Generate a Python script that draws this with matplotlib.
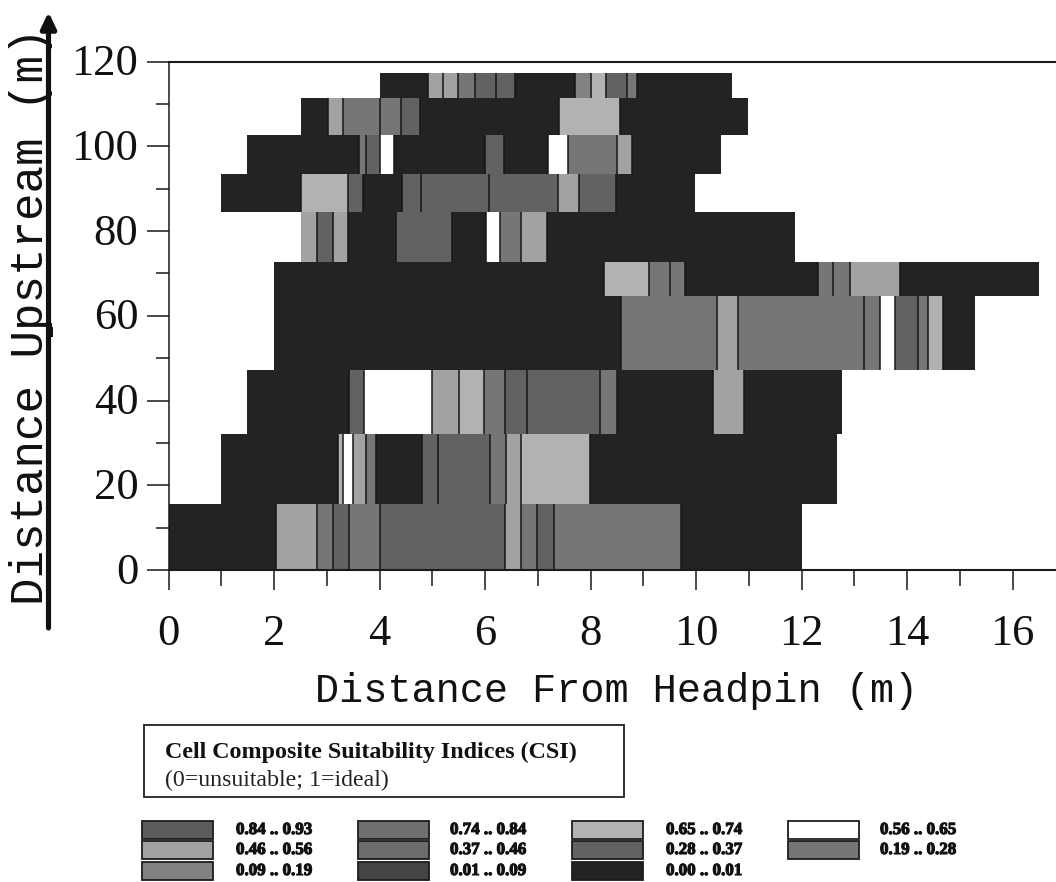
import matplotlib
matplotlib.use("Agg")
import matplotlib.pyplot as plt
import matplotlib.patheffects as pe
from matplotlib.patches import Rectangle
from matplotlib.transforms import ScaledTranslation

# CSI classes, same order as the legend (left to right, top to bottom)
csi_labels = ["0.84 .. 0.93", "0.74 .. 0.84", "0.65 .. 0.74", "0.56 .. 0.65",
              "0.46 .. 0.56", "0.37 .. 0.46", "0.28 .. 0.37", "0.19 .. 0.28",
              "0.09 .. 0.19", "0.01 .. 0.09", "0.00 .. 0.01"]
csi_colors = ["#5c5c5c", "#707070", "#b2b2b2", "#ffffff",
              "#a2a2a2", "#6c6c6c", "#626262", "#767676",
              "#828282", "#444444", "#232323"]

# top/bottom of every transect row (m upstream), row 0 at the bottom
row_edges = [0, 15.6, 32.1, 47.2, 64.8, 72.8, 84.5, 93.5, 102.8, 111.5, 117.4]

row0_x = [0, 2.03, 2.82, 3.11, 3.42, 4.01, 6.38, 6.68, 6.98, 7.30, 9.72, 12.0]
row0_csi = [10, 4, 7, 6, 7, 6, 4, 7, 6, 7, 10]
row1_x = [0.99, 3.22, 3.31, 3.50, 3.74, 3.93, 4.80, 5.10, 6.09, 6.40, 6.69, 7.99, 12.67]
row1_csi = [10, 2, 3, 4, 7, 10, 6, 6, 7, 4, 2, 10]
row2_x = [1.49, 3.43, 3.71, 5.0, 5.50, 5.98, 6.37, 6.79, 8.18, 8.50, 10.33, 10.91, 12.76]
row2_csi = [10, 6, 3, 4, 2, 7, 6, 6, 7, 10, 4, 10]
row3_x = [2.0, 8.57, 10.40, 10.80, 13.19, 13.49, 13.77, 14.20, 14.39, 14.69, 15.28]
row3_csi = [10, 7, 4, 7, 7, 3, 6, 7, 2, 10]
row4_x = [2.0, 8.26, 9.10, 9.50, 9.79, 12.31, 12.60, 12.91, 13.87, 16.50]
row4_csi = [10, 2, 7, 7, 10, 7, 7, 4, 10]
row5_x = [2.51, 2.82, 3.11, 3.41, 4.31, 5.38, 6.01, 6.28, 6.68, 7.17, 11.88]
row5_csi = [4, 6, 4, 10, 6, 10, 3, 7, 4, 10]
row6_x = [0.99, 2.52, 3.41, 3.69, 4.42, 4.79, 6.08, 7.39, 7.78, 8.48, 9.99]
row6_csi = [10, 2, 6, 10, 6, 6, 6, 4, 6, 10]
row7_x = [1.49, 3.61, 3.74, 4.01, 4.28, 6.0, 6.36, 7.20, 7.57, 8.50, 8.78, 10.48]
row7_csi = [10, 7, 6, 3, 10, 6, 10, 3, 7, 4, 10]
row8_x = [2.51, 3.03, 3.31, 4.01, 4.40, 4.77, 7.40, 8.55, 10.98]
row8_csi = [10, 4, 7, 7, 6, 10, 2, 10]
row9_x = [4.0, 4.91, 5.21, 5.49, 5.81, 6.20, 6.57, 7.70, 8.0, 8.29, 8.69, 8.88, 10.69]
row9_csi = [10, 4, 4, 7, 6, 6, 10, 8, 2, 6, 7, 10]

rows_x = [row0_x, row1_x, row2_x, row3_x, row4_x, row5_x, row6_x, row7_x, row8_x, row9_x]
rows_csi = [row0_csi, row1_csi, row2_csi, row3_csi, row4_csi, row5_csi, row6_csi, row7_csi, row8_csi, row9_csi]

x_major = [0, 2, 4, 6, 8, 10, 12, 14, 16]
x_minor = [1, 3, 5, 7, 9, 11, 13, 15]
y_major = [0, 20, 40, 60, 80, 100, 120]
y_minor = [10, 30, 50, 70, 90, 110]

W, H = 1056, 882
serif = "Liberation Serif"
mono = "Liberation Mono"

fig = plt.figure(figsize=(W / 100, H / 100), dpi=100, facecolor="white")
ax = fig.add_axes([168.5 / W, 1 - 570 / H, (W - 168.5) / W, (570 - 61.7) / H])

for i in range(len(rows_x)):
    edges = rows_x[i]
    y0, y1 = row_edges[i], row_edges[i + 1]
    for j in range(len(rows_csi[i])):
        ax.barh(y0, edges[j + 1] - edges[j], height=y1 - y0, left=edges[j], align="edge",
                color=csi_colors[rows_csi[i][j]], linewidth=0)
    ax.vlines(edges[1:-1], y0, y1, color="#161616", linewidth=1.1)

ax.set_xlim(0, (W - 168.5) / 52.75)
ax.set_ylim(0, 120)
ax.spines["right"].set_visible(False)
ax.spines["left"].set_linewidth(1.1)
ax.spines["top"].set_linewidth(1.5)
ax.spines["bottom"].set_linewidth(1.5)
for s in ax.spines.values():
    s.set_color("#1a1a1a")

ax.set_xticks(x_major)
ax.set_xticks(x_minor, minor=True)
ax.set_yticks(y_major)
ax.set_yticks(y_minor, minor=True)
ax.tick_params(axis="x", which="major", length=14.4, width=1.1, pad=17, color="#1a1a1a")
ax.tick_params(axis="x", which="minor", length=11.3, width=1.1, color="#1a1a1a")
ax.tick_params(axis="y", which="major", length=16.2, width=1.1, pad=5.5, color="#1a1a1a")
ax.tick_params(axis="y", which="minor", length=9.7, width=1.1, color="#1a1a1a")
for lab in ax.get_xticklabels() + ax.get_yticklabels():
    lab.set_fontfamily(serif)
    lab.set_fontsize(32)
    lab.set_color("#111111")
# y labels sit a little above their ticks in the original
up = ScaledTranslation(0, 2 / 72 * 0.72 * 100 / 100, fig.dpi_scale_trans)
for lab in ax.get_yticklabels():
    lab.set_transform(lab.get_transform() + up)

ax.set_xlabel("Distance From Headpin (m)", fontfamily=mono, fontsize=29, color="#111111", va="top")
ax.xaxis.set_label_coords((617 - 168.5) / (W - 168.5), (570 - 672) / (570 - 61.7))
ax.set_ylabel("Distance Upstream (m)", fontfamily=mono, fontsize=33, color="#111111", va="bottom")
ax.yaxis.set_label_coords((53 - 168.5) / (W - 168.5), (570 - 316) / (570 - 61.7))

# overlay in pixel coordinates for the arrow and the hand made legend
ov = fig.add_axes([0, 0, 1, 1], facecolor="none")
ov.set_xlim(0, W)
ov.set_ylim(H, 0)
ov.axis("off")

ov.annotate("", xy=(48.5, 12), xytext=(48.5, 628),
            arrowprops=dict(arrowstyle="-|>,head_width=0.45,head_length=0.95", lw=3.7,
                            color="#111111", shrinkA=0, shrinkB=0))
ov.add_patch(Rectangle((46, 327), 6.5, 10, color="#111111", linewidth=0))

ov.add_patch(Rectangle((144, 725), 480, 72, facecolor="white", edgecolor="#222222", linewidth=1.3))
ov.text(165, 752, "Cell Composite Suitability Indices (CSI)", fontfamily=serif, fontweight="bold",
        fontsize=17.3, color="#111111", va="center")
ov.text(165, 780, "(0=unsuitable; 1=ideal)", fontfamily=serif, fontsize=17.2, color="#222222", va="center")

col_x = [142, 358, 572, 788]
text_x = [236, 450, 666, 880]
row_y = [821, 841, 862]
for k in range(len(csi_labels)):
    r, c = k // 4, k % 4
    ov.add_patch(Rectangle((col_x[c], row_y[r]), 71, 18, facecolor=csi_colors[k],
                           edgecolor="#1c1c1c", linewidth=1.3))
    ov.text(text_x[c], row_y[r] + 9, csi_labels[k], fontfamily=serif, fontweight="bold", fontsize=12.2,
            color="#111111", va="center",
            path_effects=[pe.withStroke(linewidth=0.8, foreground="#111111")])

fig.savefig("out.png", dpi=100)
